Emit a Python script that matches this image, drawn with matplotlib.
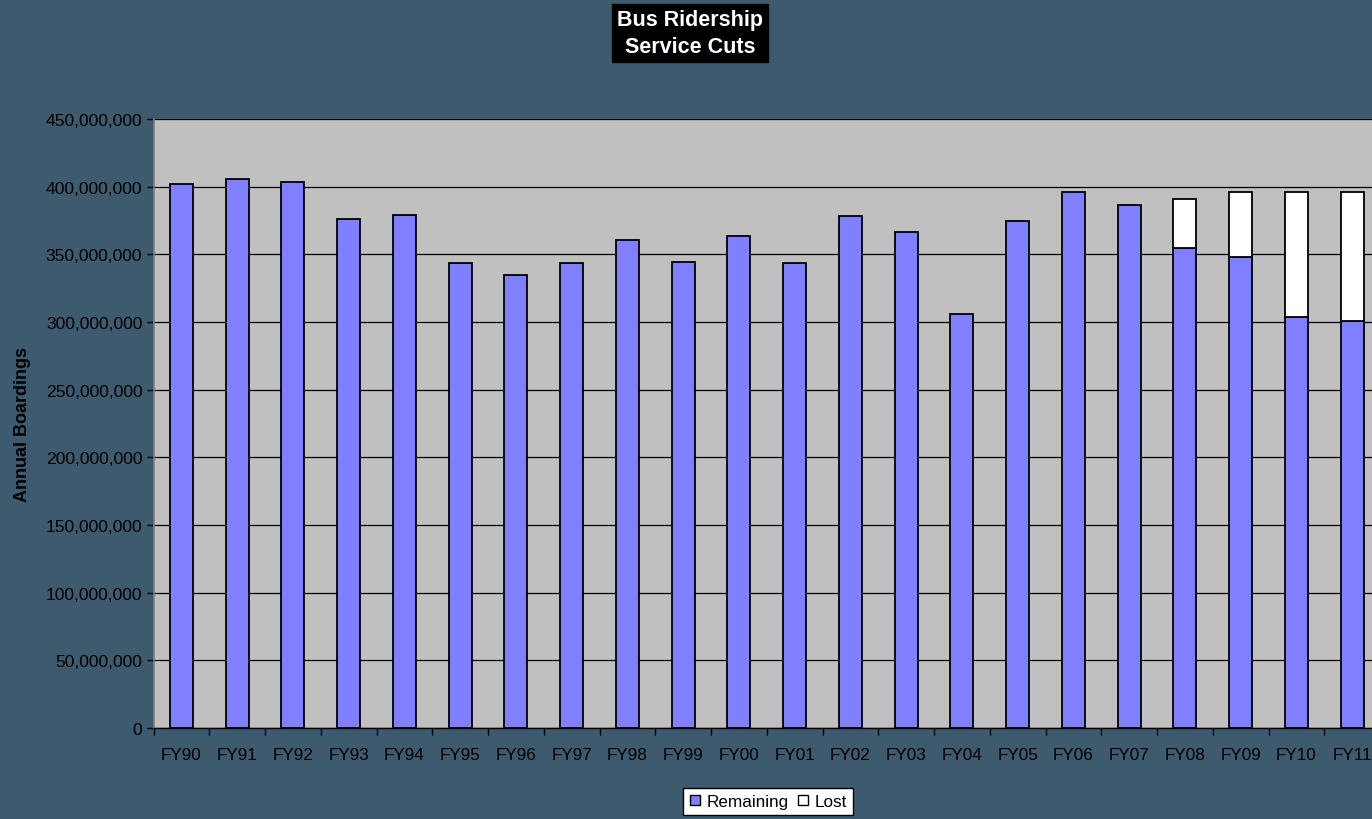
import matplotlib
matplotlib.use("Agg")
import matplotlib.pyplot as plt
from matplotlib.ticker import FuncFormatter, MultipleLocator
from matplotlib.lines import Line2D
import numpy as np

plt.rcParams['font.family'] = ['Liberation Sans', 'DejaVu Sans']

categories = ["FY90", "FY91", "FY92", "FY93", "FY94", "FY95", "FY96", "FY97", "FY98", "FY99",
              "FY00", "FY01", "FY02", "FY03", "FY04", "FY05", "FY06", "FY07", "FY08", "FY09",
              "FY10", "FY11"]
remaining_m = [402.3, 405.8, 403.3, 375.9, 379.4, 343.4, 335.0, 343.4, 360.4, 344.4,
               363.8, 343.4, 378.1, 366.3, 306.2, 374.7, 396.1, 386.8, 355.0, 348.1,
               303.4, 301.0]
lost_m = [0, 0, 0, 0, 0, 0, 0, 0, 0, 0,
          0, 0, 0, 0, 0, 0, 0, 0, 36.2, 48.0,
          92.7, 95.1]

remaining = np.array(remaining_m) * 1e6
lost = np.array(lost_m) * 1e6

bg = '#3D5A6F'
fig = plt.figure(figsize=(13.72, 8.2), dpi=100, facecolor=bg)
W, H = 1372, 820
left_px, right_px = 153.5, 153.5 + 22 * 55.75
top_px, bot_px = 120, 729
ax = fig.add_axes([left_px / W, 1 - bot_px / H, (right_px - left_px) / W, (bot_px - top_px) / H])
ax.set_facecolor('#C0C0C0')

x = np.arange(len(categories))
ax.bar(x, remaining, width=0.41, color='#8080FF', edgecolor='black', linewidth=1.3, zorder=3, label='Remaining')
lost_idx = [i for i, v in enumerate(lost) if v > 0]
ax.bar(x[lost_idx], lost[lost_idx], bottom=remaining[lost_idx], width=0.41, color='white',
       edgecolor='black', linewidth=1.3, zorder=3, label='Lost')

ax.set_xlim(-0.5, len(categories) - 0.5)
ax.set_ylim(0, 450e6)
ax.yaxis.set_major_locator(MultipleLocator(50e6))
ax.yaxis.set_major_formatter(FuncFormatter(lambda v, p: f"{int(v):,}"))
ax.grid(axis='y', color='black', linewidth=0.9, zorder=1)
ax.set_axisbelow(True)

ax.set_xticks(x)
ax.set_xticklabels(categories)
ax.set_xticks(np.arange(-0.5, len(categories) + 0.5, 1), minor=True)
ax.tick_params(axis='x', which='major', length=0, pad=14, labelsize=12.3, colors='black')
ax.tick_params(axis='x', which='minor', length=5, width=1, color='black', direction='out')
ax.tick_params(axis='y', length=5, width=1, color='black', labelsize=12.6, pad=3, labelcolor='black')

for s in ['top', 'right']:
    ax.spines[s].set_visible(False)
ax.spines['left'].set_color('#808080')
ax.spines['left'].set_linewidth(1.2)
ax.spines['bottom'].set_color('black')
ax.spines['bottom'].set_linewidth(1)

ax.set_ylabel('Annual Boardings', fontsize=13, fontweight='bold', color='black')
ax.yaxis.set_label_coords((31 - left_px) / (right_px - left_px), 0.5)

fig.text(690 / W, 1 - 34 / H, 'Bus Ridership\nService Cuts', ha='center', va='center',
         fontsize=15.5, fontweight='bold', color='white', linespacing=1.35,
         bbox=dict(facecolor='black', edgecolor='black', boxstyle='square,pad=0.22'))

handles = [Line2D([], [], marker='s', linestyle='none', markersize=7.5, markerfacecolor='#8080FF',
                  markeredgecolor='black', markeredgewidth=1),
           Line2D([], [], marker='s', linestyle='none', markersize=7.5, markerfacecolor='white',
                  markeredgecolor='black', markeredgewidth=1)]
leg = fig.legend(handles, ['Remaining', 'Lost'], loc='upper center', bbox_to_anchor=(768 / W, 1 - 789 / H),
                 ncol=2, fontsize=12.3, frameon=True, fancybox=False, edgecolor='black', facecolor='white',
                 framealpha=1, handlelength=0.7, handletextpad=0.3, columnspacing=0.5,
                 borderpad=0.35, borderaxespad=0)
leg.get_frame().set_linewidth(1)

fig.savefig('out.png', dpi=100, facecolor=bg)
